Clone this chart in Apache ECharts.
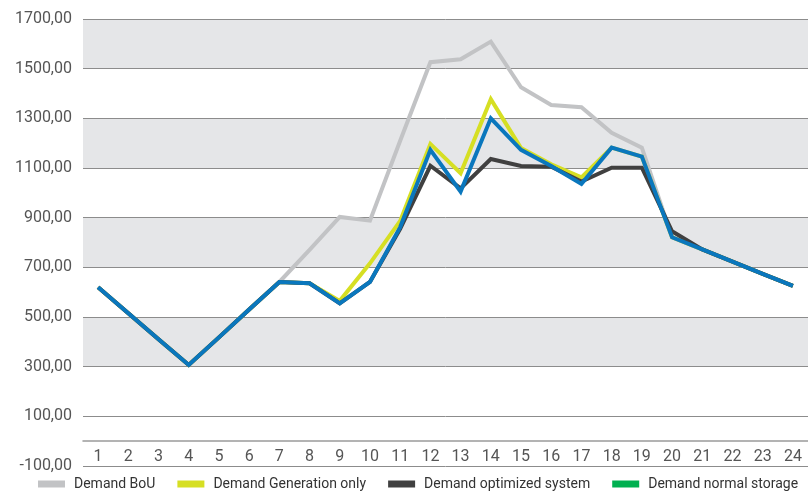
<!DOCTYPE html>
<html>
<head>
<meta charset="utf-8">
<script src="https://cdn.jsdelivr.net/npm/echarts@6/dist/echarts.min.js"></script>
<style>
  html, body { margin: 0; padding: 0; background: #fff; }
  #chart { width: 808px; height: 493px; }
</style>
</head>
<body>
<div id="chart"></div>
<script>
  // hours on the x axis
  const hours = ['1','2','3','4','5','6','7','8','9','10','11','12','13','14','15','16','17','18','19','20','21','22','23','24'];
  const yTicks = [-100, 100, 300, 500, 700, 900, 1100, 1300, 1500, 1700];

  // values
  const demandBoU = [620, 515, 410, 307, 418, 530, 641, 770, 903, 888, 1210, 1526, 1538, 1609, 1425, 1354, 1345, 1242, 1182, 821, 772, 723, 674, 625];
  const demandGeneration = [620, 515, 410, 307, 418, 530, 641, 636, 565, 716, 887, 1197, 1079, 1377, 1180, 1115, 1062, 1182, 1146, 821, 772, 723, 674, 625];
  const demandOptimized = [620, 515, 410, 307, 418, 530, 641, 636, 555, 641, 855, 1109, 1018, 1136, 1108, 1105, 1045, 1101, 1101, 845, 772, 723, 674, 625];
  const demandStorage = [620, 515, 410, 307, 418, 530, 641, 636, 555, 641, 862, 1173, 1005, 1300, 1173, 1108, 1036, 1182, 1146, 821, 772, 723, 674, 625];

  const chart = echarts.init(document.getElementById('chart'));

  const fmt = v => v.toFixed(2).replace('.', ',');
  const mkLine = (name, data, color) => ({
    name: name,
    type: 'line',
    data: data,
    showSymbol: false,
    symbol: 'none',
    lineStyle: { color: color, width: 4, join: 'miter' },
    itemStyle: { color: color }
  });

  const option = {
    animation: false,
    textStyle: { fontFamily: 'Roboto' },
    grid: { left: 83, right: 0, top: 19, bottom: 27 },
    xAxis: {
      type: 'category',
      data: hours,
      axisLine: { onZero: true, lineStyle: { color: '#9a9a9a', width: 1.5 } },
      axisTick: { show: false },
      // labels sit between the zero line and the bottom grid line
      axisLabel: { color: '#555', fontSize: 16, margin: -17 }
    },
    yAxis: {
      type: 'value',
      min: yTicks[0],
      max: yTicks[yTicks.length - 1],
      interval: 200,
      axisLine: { show: false },
      axisTick: { show: false },
      axisLabel: { color: '#555', fontSize: 16, margin: 11, formatter: fmt },
      splitLine: { lineStyle: { color: '#8c8c8c', width: 1 } },
      splitArea: {
        show: true,
        areaStyle: {
          color: ['#ffffff', '#ffffff', '#e5e6e8', '#ffffff', '#e5e6e8', '#ffffff', '#e5e6e8', '#ffffff', '#e5e6e8']
        }
      }
    },
    legend: {
      top: 477,
      left: 38,
      width: 780,
      padding: 0,
      icon: 'rect',
      itemWidth: 27,
      itemHeight: 7,
      itemGap: 22,
      textStyle: { color: '#333', fontSize: 14, padding: [0, 0, 0, 4] },
      data: [
        { name: 'Demand BoU', itemStyle: { color: '#c2c3c5' } },
        { name: 'Demand Generation only', itemStyle: { color: '#d6df23' } },
        { name: 'Demand optimized system', itemStyle: { color: '#404040' } },
        { name: 'Demand normal storage', itemStyle: { color: '#00b050' } }
      ]
    },
    series: [
      mkLine('Demand BoU', demandBoU, '#c2c3c5'),
      mkLine('Demand Generation only', demandGeneration, '#d6df23'),
      mkLine('Demand optimized system', demandOptimized, '#404040'),
      mkLine('Demand normal storage', demandStorage, '#0a77bd')
    ]
  };

  chart.setOption(option);
</script>
</body>
</html>
